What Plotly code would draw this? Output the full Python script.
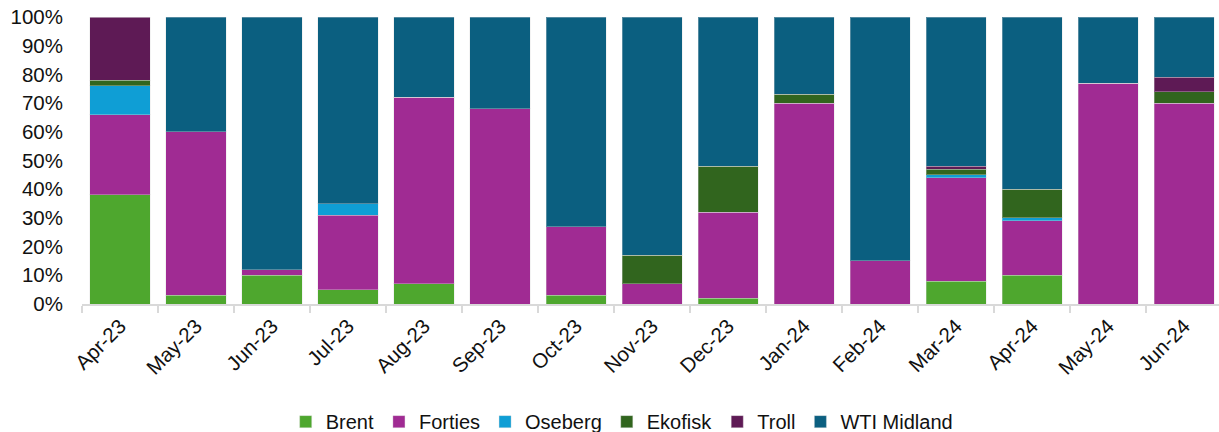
import plotly.graph_objects as go

months = ["Apr-23", "May-23", "Jun-23", "Jul-23", "Aug-23", "Sep-23", "Oct-23",
          "Nov-23", "Dec-23", "Jan-24", "Feb-24", "Mar-24", "Apr-24", "May-24", "Jun-24"]

# Share of each crude grade per month (percent)
brent      = [38, 3, 10, 5, 7, 0, 3, 0, 2, 0, 0, 8, 10, 0, 0]
forties    = [28, 57, 2, 26, 65, 68, 24, 7, 30, 70, 15, 36, 19, 77, 70]
oseberg    = [10, 0, 0, 4, 0, 0, 0, 0, 0, 0, 0, 1, 1, 0, 0]
ekofisk    = [2, 0, 0, 0, 0, 0, 0, 10, 16, 3, 0, 2, 10, 0, 4]
troll      = [22, 0, 0, 0, 0, 0, 0, 0, 0, 0, 0, 1, 0, 0, 5]
wti_midland = [0, 40, 88, 65, 28, 32, 73, 83, 52, 27, 85, 52, 60, 23, 21]

series = [
    ("Brent", brent, "#4ea72e"),
    ("Forties", forties, "#a02b93"),
    ("Oseberg", oseberg, "#0f9ed5"),
    ("Ekofisk", ekofisk, "#31651e"),
    ("Troll", troll, "#5e1a55"),
    ("WTI Midland", wti_midland, "#0b5f80"),
]

fig = go.Figure()
for name, vals, color in series:
    fig.add_trace(go.Bar(
        x=months,
        y=[v / 100 for v in vals],
        name=name,
        marker=dict(color=color, line=dict(color="rgba(220,220,220,0.35)", width=1)),
    ))

fig.update_layout(
    width=1219,
    height=432,
    barmode="stack",
    bargap=0.21,
    plot_bgcolor="white",
    paper_bgcolor="white",
    margin=dict(l=82, r=0, t=17, b=128),
    font=dict(family="Liberation Sans, Arial, sans-serif", size=20.5, color="#111111"),
    legend=dict(
        orientation="h",
        traceorder="normal",
        xref="container",
        yref="container",
        x=0.51,
        xanchor="center",
        y=0.024,
        yanchor="middle",
        font=dict(size=20),
        itemwidth=30,
    ),
    xaxis=dict(
        type="category",
        range=[-0.5, 14.46],
        tickangle=-45,
        showline=True,
        linecolor="#d9d9d9",
        linewidth=2,
        ticks="outside",
        tickson="boundaries",
        ticklen=7,
        tickwidth=2,
        tickcolor="#d9d9d9",
        showgrid=False,
    ),
    yaxis=dict(
        range=[0, 1],
        tickformat=".0%",
        dtick=0.1,
        showgrid=False,
        zeroline=False,
        showline=False,
        ticks="",
        ticklabelstandoff=18,
    ),
)

fig.write_html("out.html")
